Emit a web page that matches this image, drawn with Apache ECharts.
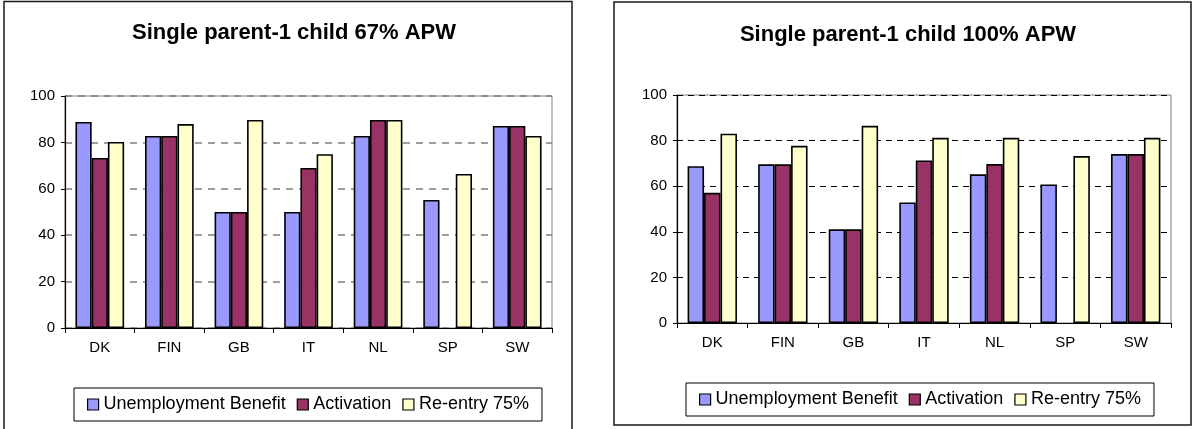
<!DOCTYPE html>
<html>
<head>
<meta charset="utf-8">
<script src="https://cdn.jsdelivr.net/npm/echarts@6/dist/echarts.min.js"></script>
<style>
  html, body { margin: 0; padding: 0; background: #fff; }
  #chart { width: 1192px; height: 429px; }
</style>
</head>
<body>
<div id="chart"></div>
<script>
// Replacement rates by country, single parent with one child
const categories = ['DK', 'FIN', 'GB', 'IT', 'NL', 'SP', 'SW'];
const seriesNames = ['Unemployment Benefit', 'Activation', 'Re-entry 75%'];
const titles = ['Single parent-1 child 67% APW', 'Single parent-1 child 100% APW'];
const yTicks = [0, 20, 40, 60, 80, 100];

// 67% of average production wage
const benefit67 = [88.8, 82.8, 50.0, 50.0, 82.8, 55.2, 87.1];
const activation67 = [73.3, 82.8, 50.0, 69.0, 89.7, null, 87.1];
const reentry67 = [80.2, 87.9, 89.7, 74.9, 89.7, 66.4, 82.8];

// 100% of average production wage
const benefit100 = [68.8, 69.6, 41.1, 52.9, 65.2, 60.8, 74.1];
const activation100 = [57.1, 69.6, 41.1, 71.3, 69.7, null, 74.1];
const reentry100 = [83.0, 77.7, 86.5, 81.2, 81.2, 73.2, 81.2];

const colors = ['#9999FF', '#993366', '#FFFFCC'];
const FONT = "'Liberation Sans', Arial, sans-serif";

const panels = [
  { data: [benefit67, activation67, reentry67], grid: { left: 65, top: 96, width: 487, height: 232 },
    box: { x: 4, y: 1.5, w: 568, h: 440 }, titleY: 17, titleX: 289,
    legend: { left: 74, top: 388 }, gridColor: '#7f7f7f', dash: [7, 6], gridWidth: 1.5 },
  { data: [benefit100, activation100, reentry100], grid: { left: 677, top: 95, width: 494, height: 228 },
    box: { x: 614, y: 2, w: 577, h: 423 }, titleY: 19, titleX: 903,
    legend: { left: 686, top: 383 }, gridColor: '#000000', dash: [6, 5], gridWidth: 1 }
];

const chart = echarts.init(document.getElementById('chart'), null, { renderer: 'canvas' });

const option = {
  backgroundColor: '#ffffff',
  animation: false,
  color: colors,
  title: panels.map((p, i) => ({
    text: titles[i],
    left: p.titleX,
    top: p.titleY,
    textAlign: 'center',
    textStyle: { fontFamily: FONT, fontSize: 22, fontWeight: 'bold', color: '#000' }
  })),
  graphic: panels.map(p => ({
    type: 'rect',
    silent: true,
    z: -1,
    shape: { x: p.box.x, y: p.box.y, width: p.box.w, height: p.box.h },
    style: { fill: 'none', stroke: '#1a1a1a', lineWidth: 1.5 }
  })),
  legend: panels.map(p => ({
    data: seriesNames,
    left: p.legend.left,
    top: p.legend.top,
    orient: 'horizontal',
    icon: 'rect',
    itemWidth: 11,
    itemHeight: 11,
    itemGap: 11,
    padding: [7, 13],
    borderColor: '#000',
    borderWidth: 1,
    selectedMode: false,
    itemStyle: { borderColor: '#000', borderWidth: 1.2 },
    textStyle: { fontFamily: FONT, fontSize: 18, color: '#000', lineHeight: 19 }
  })),
  grid: panels.map(p => Object.assign({
    show: true, borderColor: '#808080', borderWidth: 1, backgroundColor: '#fff', containLabel: false
  }, p.grid)),
  xAxis: panels.map((p, i) => ({
    type: 'category',
    gridIndex: i,
    data: categories,
    boundaryGap: true,
    axisLine: { show: true, lineStyle: { color: '#000', width: 1.2 } },
    axisTick: { show: true, length: 5, inside: false, lineStyle: { color: '#000', width: 1 } },
    axisLabel: { margin: 12, fontFamily: FONT, fontSize: 15, color: '#000' },
    splitLine: { show: false }
  })),
  yAxis: panels.map((p, i) => ({
    type: 'value',
    gridIndex: i,
    min: yTicks[0],
    max: yTicks[yTicks.length - 1],
    interval: yTicks[1] - yTicks[0],
    axisLine: { show: true, lineStyle: { color: '#000', width: 1.2 } },
    axisTick: { show: true, length: 4, lineStyle: { color: '#000', width: 1 } },
    axisLabel: { margin: 10, fontFamily: FONT, fontSize: 15, color: '#000' },
    splitLine: { show: true, lineStyle: { color: p.gridColor, type: p.dash, width: p.gridWidth } }
  })),
  series: []
};

panels.forEach((p, i) => {
  p.data.forEach((values, k) => {
    option.series.push({
      type: 'bar',
      name: seriesNames[k],
      xAxisIndex: i,
      yAxisIndex: i,
      data: values,
      barGap: '0%',
      barCategoryGap: '30%',
      itemStyle: { color: colors[k], borderColor: '#000', borderWidth: 1.6 }
    });
  });
});

chart.setOption(option);
</script>
</body>
</html>
